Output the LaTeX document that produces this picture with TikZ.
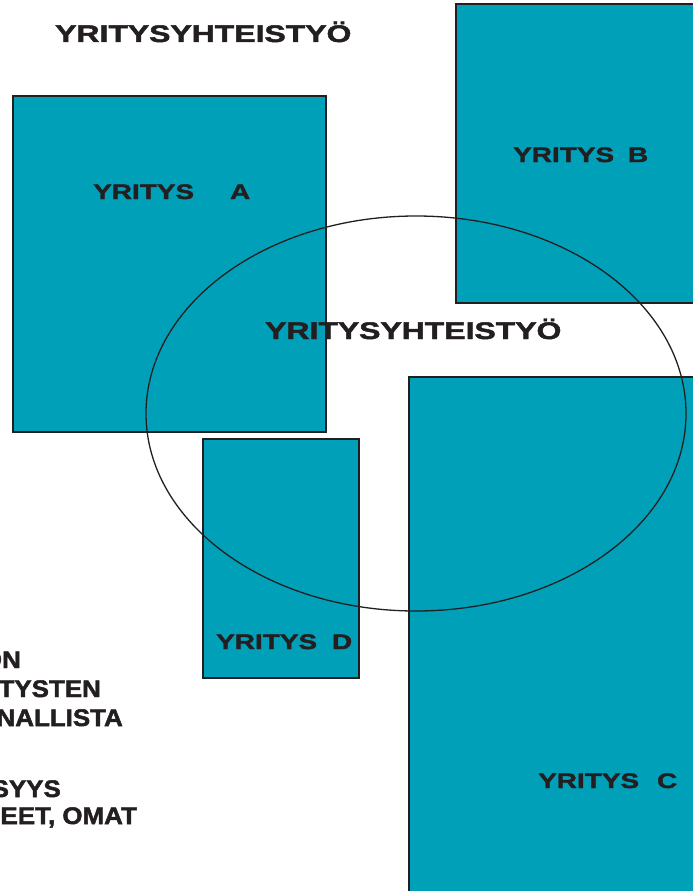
\documentclass[tikz,border=0pt]{standalone}
\usepackage{fontspec}
\newfontfamily\heavyfont{Liberation Sans Bold}[FakeStretch=1.33,FakeBold=2]
\newfontfamily\sidefont{Liberation Sans Bold}[FakeStretch=1.08,FakeBold=2]
\definecolor{firmteal}{HTML}{00A0B9}
\definecolor{inkblack}{HTML}{231F20}

\begin{document}
\begin{tikzpicture}[x=1pt, y=-1pt,
    firm/.style={draw=inkblack, fill=firmteal, line width=1.5pt},
    coop/.style={draw=inkblack, line width=1.3pt},
    biglab/.style={inner sep=0pt, anchor=base west, text=inkblack,
                   font=\heavyfont\fontsize{24}{29}\selectfont},
    firmlab/.style={inner sep=0pt, anchor=base west, text=inkblack,
                    font=\heavyfont\fontsize{21}{25}\selectfont},
    sidelab/.style={inner sep=0pt, anchor=base east, text=inkblack,
                    font=\sidefont\fontsize{24}{29}\selectfont}]

\useasboundingbox (0,0) rectangle (693,891);
\clip (0,0) rectangle (693,891);

% Companies
\path[firm] (13,96)   rectangle (326,432);
\path[firm] (456,4)   rectangle (705,303);
\path[firm] (409,377) rectangle (705,905);
\path[firm] (203,439) rectangle (359,678);

% Cooperation area
\draw[coop] (416,413.5) ellipse [x radius=270pt, y radius=197.5pt];

% Titles
\node[biglab] (title) at (55,42)  {YRITYSYHTEISTYÖ};
\node[biglab] (coop)  at (265,339) {YRITYSYHTEISTYÖ};

% Company labels
\node[firmlab] (labA) at (93,199)  {YRITYS\hspace{36pt}A};
\node[firmlab] (labB) at (513,162) {YRITYS\hspace{14pt}B};
\node[firmlab] (labD) at (216,649) {YRITYS\hspace{15pt}D};
\node[firmlab] (labC) at (538,788) {YRITYS\hspace{18pt}C};

% Text cut by the left edge
\node[sidelab] (txtA) at (21,668)  {ON};
\node[sidelab] (txtB) at (101,697) {TYSTEN};
\node[sidelab] (txtC) at (123,726) {NALLISTA};
\node[sidelab] (txtD) at (61,797)  {SYYS};
\node[sidelab] (txtE) at (137,824) {EET, OMAT};

\end{tikzpicture}
\end{document}
